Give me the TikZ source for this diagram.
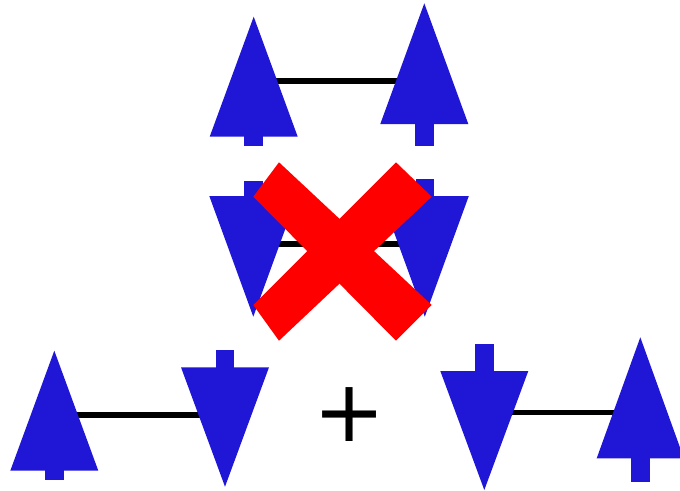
\documentclass[tikz,border=0pt]{standalone}
\usepackage{fontspec}
\setsansfont{DejaVu Sans}
\definecolor{arrblue}{RGB}{31,22,214}
\definecolor{xred}{RGB}{255,0,0}
\tikzset{
  spin/.style={fill=arrblue,draw=none},
  bond/.style={draw=black,line width=5.3pt},
  cross/.style={fill=xred,draw=none}
}
% up spin: apex x, apex y, base y, stem bottom y, half width
\newcommand\spinup[5]{%
  \fill[spin] (#1-#5,#3) -- (#1,#2) -- (#1+#5,#3) -- cycle;
  \fill[spin] (#1-9.3,#3-1) rectangle (#1+9.3,#4);
}
% down spin: apex x, apex y, base y, stem top y, half width
\newcommand\spindown[5]{%
  \fill[spin] (#1-#5,#3) -- (#1,#2) -- (#1+#5,#3) -- cycle;
  \fill[spin] (#1-9.3,#3+1) rectangle (#1+9.3,#4);
}
\begin{document}
\begin{tikzpicture}[x=1pt,y=-1pt]
\useasboundingbox (0,0) rectangle (680,490);
% connector endpoints
\coordinate (tl) at (253.7,81);
\coordinate (tr) at (424.3,81);
\coordinate (ml) at (253.3,244);
\coordinate (mr) at (424.5,244);
\coordinate (bl1) at (54.3,415);
\coordinate (bl2) at (225,415);
\coordinate (br1) at (484.3,412.7);
\coordinate (br2) at (640.3,412.7);
\draw[bond] (tl) -- (tr);
\draw[bond] (ml) -- (mr);
\draw[bond] (bl1) -- (bl2);
\draw[bond] (br1) -- (br2);
% top pair
\spinup{253.7}{16.7}{136.7}{146}{44}
\spinup{424.3}{3.3}{124}{146}{44}
% middle pair
\spindown{253.3}{316.7}{196}{181}{44}
\spindown{424.8}{316.7}{196}{179}{44}
% red X
\fill[cross] (279,162.3) -- (253.3,196.7) -- (396,340.7) -- (431.7,305) -- cycle;
\fill[cross] (396,162.3) -- (431.7,196.7) -- (279,340.7) -- (253.3,305) -- cycle;
% bottom left pair
\spinup{54.3}{350.7}{470.7}{479.7}{44}
\spindown{225}{486.7}{367.3}{350}{44}
% plus
\node[font=\sffamily\fontsize{86}{86}\selectfont,inner sep=0pt] (plus) at (350,414.5) {+};
% bottom right pair
\spindown{484.3}{490}{371}{344}{44}
\spinup{640.3}{337.3}{458.3}{482.3}{43.6}
\end{tikzpicture}
\end{document}
